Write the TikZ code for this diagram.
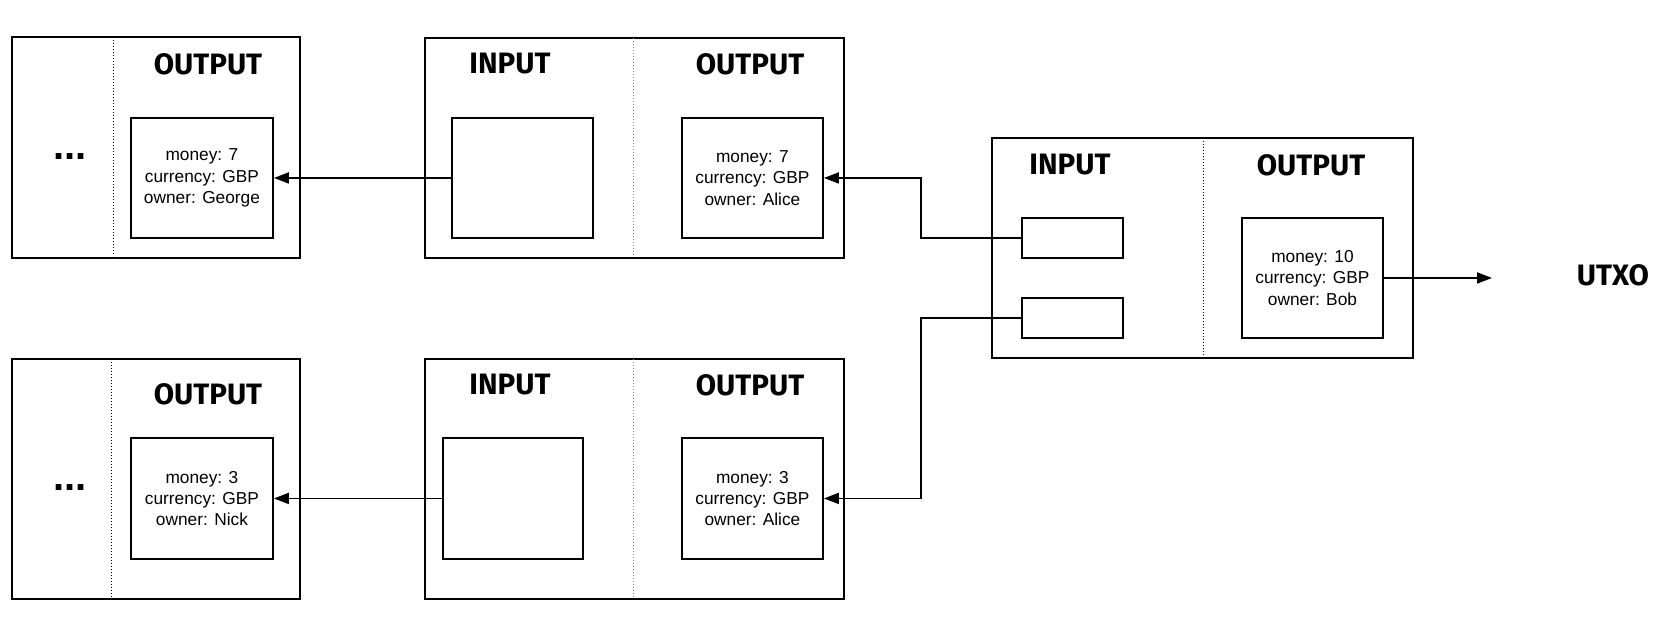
\documentclass[tikz,border=0pt]{standalone}
\usepackage{fontspec}
\setmainfont{Liberation Sans}
\newfontfamily\hand{Fira Sans}
\usetikzlibrary{arrows.meta}
\tikzset{
  outerbox/.style={draw, line width=1.9pt, inner sep=0pt, anchor=north west},
  innerbox/.style={draw, line width=1.9pt, inner sep=0pt, anchor=north west, align=center,
    font=\fontsize{17.3}{21.4}\selectfont},
  sep/.style={line width=1pt, dotted},
  head/.style={font=\hand\bfseries\fontsize{29.5}{32}\selectfont, inner sep=0pt},
  dots/.style={font=\bfseries\fontsize{40}{42}\selectfont, inner sep=0pt, anchor=base},
  arr/.style={line width=1.9pt, -{Triangle[length=15pt,width=11pt]}}
}
\begin{document}
\begin{tikzpicture}[x=1pt,y=-1pt]
\useasboundingbox (0,0) rectangle (1671,637);
% Box A (top-left)
\node[outerbox, minimum width=288pt, minimum height=221pt] (A) at (11,36) {};
\draw[sep] (113,37) -- (113,256);
\node[dots] (Adots) at (70,159) {...};
\node[head] (Ahead) at (208,64) {OUTPUT};
\node[innerbox, minimum width=142pt, minimum height=120pt] (Aout) at (130,117) {money: 7\\currency: GBP\\owner: George};
% Box B (top-middle)
\node[outerbox, minimum width=419pt, minimum height=220pt] (B) at (424,37) {};
\draw[sep, gray] (633,38) -- (633,256);
\node[head] (Bhin) at (510,64) {INPUT};
\node[head] (Bhout) at (750,64) {OUTPUT};
\node[innerbox, minimum width=141pt, minimum height=120pt] (Bin) at (451,117) {};
\node[innerbox, minimum width=141pt, minimum height=120pt] (Bout) at (681,117) {money: 7\\currency: GBP\\owner: Alice};
% Box C (right)
\node[outerbox, minimum width=421pt, minimum height=220pt] (C) at (991,137) {};
\draw[sep] (1203,138) -- (1203,356);
\node[head] (Chin) at (1070,165) {INPUT};
\node[head] (Chout) at (1311,165) {OUTPUT};
\node[innerbox, minimum width=101pt, minimum height=40pt] (Cin1) at (1021,217) {};
\node[innerbox, minimum width=101pt, minimum height=40pt] (Cin2) at (1021,297) {};
\node[innerbox, minimum width=141pt, minimum height=120pt] (Cout) at (1241,217) {money: 10\\currency: GBP\\owner: Bob};
\node[head] (utxo) at (1613,275) {UTXO};
\coordinate (utxoend) at (1492,277);
% Box D (bottom-left)
\node[outerbox, minimum width=288pt, minimum height=240pt] (D) at (11,358) {};
\draw[sep] (111,359) -- (111,597);
\node[dots] (Ddots) at (70,490) {...};
\node[head] (Dhead) at (208,394) {OUTPUT};
\node[innerbox, minimum width=142pt, minimum height=121pt] (Dout) at (130,437) {money: 3\\currency: GBP\\owner: Nick};
% Box E (bottom-middle)
\node[outerbox, minimum width=419pt, minimum height=240pt] (E) at (424,358) {};
\draw[sep, gray] (633,359) -- (633,597);
\node[head] (Ehin) at (510,385) {INPUT};
\node[head] (Ehout) at (750,385) {OUTPUT};
\node[innerbox, minimum width=140pt, minimum height=121pt] (Ein) at (442,437) {};
\node[innerbox, minimum width=141pt, minimum height=121pt] (Eout) at (681,437) {money: 3\\currency: GBP\\owner: Alice};
% connectors
\draw[arr] (Bin.west) -- (Aout.east);
\draw[arr] (Ein.west) -- (Dout.east);
\draw[arr] (Cin1.west) -- ++(-100,0) |- (Bout.east);
\draw[arr] (Cin2.west) -- ++(-100,0) |- (Eout.east);
\draw[arr] (Cout.east) -- (Cout.east -| utxoend);
\end{tikzpicture}
\end{document}
